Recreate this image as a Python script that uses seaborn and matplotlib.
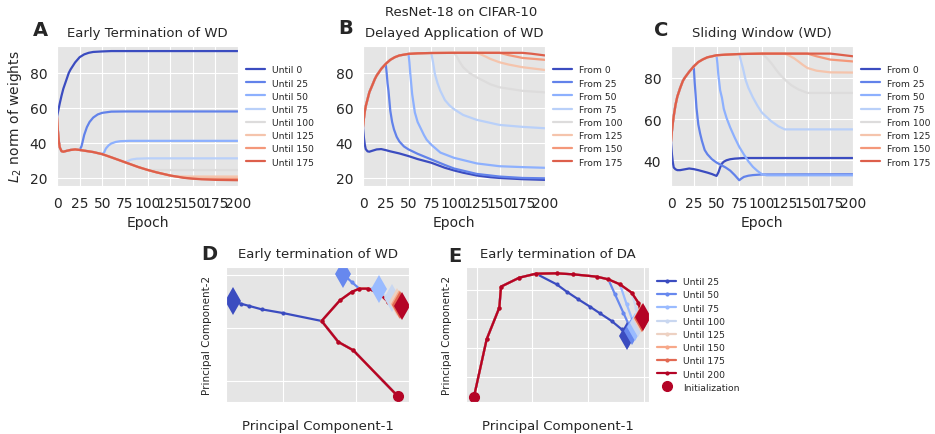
import pandas as pd
import matplotlib
matplotlib.use("Agg")
import matplotlib.pyplot as plt
from matplotlib.lines import Line2D
import seaborn as sns

# ---- values (ResNet-18 on CIFAR-10) ----

# Panel A: WD on from the start, switched off after epoch k
a_labels = ["Until 0", "Until 25", "Until 50", "Until 75",
            "Until 100", "Until 125", "Until 150", "Until 175"]
a_switch = [0, 25, 50, 75, 100, 125, 150, 175]
a_wd_epoch = [0, 1, 2, 3, 5, 7, 10, 15, 20, 25, 30, 40, 50, 60, 75, 90,
              100, 110, 125, 140, 150, 160, 175, 190, 200]
a_wd_norm = [55, 47, 41, 37.5, 35.3, 35, 35.4, 36, 36.3, 36, 35.6, 34.8, 33.6,
             31.8, 29, 26.2, 24.6, 23.2, 21.4, 20.1, 19.6, 19.2, 18.9, 18.7, 18.7]
a_tail_epoch = [
    [1, 2, 3, 5, 7, 10, 13, 15, 20, 25, 30, 35, 40, 50, 60, 75, 100, 150, 200],
    [27, 28, 30, 33, 36, 40, 45, 50, 60, 75, 200],
    [52, 54, 57, 60, 65, 70, 80, 200],
    [78, 82, 88, 100, 200],
    [105, 200],
    [130, 140, 200],
    [160, 200],
    [200],
]
a_tail_norm = [
    [57.5, 60, 62.5, 67, 71, 75.5, 80, 82, 86, 89, 90.6, 91.5, 92, 92.3,
     92.5, 92.5, 92.5, 92.5, 92.5],
    [38, 40, 44.5, 49, 52, 54.5, 56.3, 57.2, 57.9, 58, 58],
    [34.5, 36.8, 38.6, 39.7, 40.6, 41, 41.2, 41.2],
    [29.6, 30.5, 31, 31.2, 31.2],
    [24.5, 24.5],
    [21, 20.8, 20.8],
    [19.5, 19.5],
    [18.7],
]

# Panel B: no WD at first, WD applied from epoch k on
b_labels = ["From 0", "From 25", "From 50", "From 75",
            "From 100", "From 125", "From 150", "From 175"]
b_switch = [0, 25, 50, 75, 100, 125, 150, 175]
nowd_epoch = [0, 1, 2, 3, 5, 7, 10, 13, 15, 20, 25, 30, 35, 40, 50, 60, 75,
              100, 125, 150, 175, 200]
b_nowd_norm = [49, 54, 58, 61, 65, 69, 72.7, 76.5, 78.5, 82.3, 85.2, 87.5, 89,
               90, 90.9, 91.2, 91.4, 91.5, 91.5, 91.5, 91.5, 91.5]
b_tail_epoch = [
    [1, 2, 3, 5, 7, 10, 15, 20, 25, 30, 40, 50, 60, 75, 90, 100, 110, 125,
     140, 150, 175, 200],
    [26, 27, 28, 30, 32, 34, 37, 40, 45, 50, 60, 75, 90, 100, 125, 150, 175, 200],
    [51, 52, 54, 57, 60, 63, 67, 70, 75, 85, 100, 125, 150, 175, 200],
    [77, 79, 82, 85, 90, 95, 100, 110, 125, 150, 175, 200],
    [103, 106, 110, 117, 125, 140, 150, 175, 200],
    [130, 135, 140, 150, 160, 175, 200],
    [160, 175, 200],
    [185, 200],
]
b_tail_norm = [
    [43, 39, 36.5, 35.2, 35, 35.5, 36.3, 36.5, 35.9, 35.2, 34, 32.5, 30.8,
     28.7, 25.8, 24.3, 23, 21.4, 20.4, 20, 19.3, 18.9],
    [80, 74, 69.8, 58.4, 52, 47.8, 43.5, 40.8, 38, 36.3, 33.8, 30.6, 27.4,
     25.4, 22.3, 20.8, 20, 19.8],
    [86, 79.4, 68, 57.4, 52, 48.8, 44.5, 41.8, 39, 34.5, 31.5, 28.3, 26.7,
     26.2, 25.8],
    [86, 79.4, 74, 69.8, 64.5, 61.5, 59.3, 56, 53.2, 50.3, 49.2, 48.4],
    [89.5, 86.5, 83.3, 80, 77.5, 73.5, 71.8, 69.8, 68.9],
    [90.5, 89.3, 88, 86.1, 84.8, 83.3, 81.7],
    [90.2, 88.6, 87.5],
    [91, 90],
]

# Panel C: WD applied in a 50-epoch window starting at epoch k
c_nowd_norm = [49, 54, 58, 61.5, 67, 71, 75, 78.5, 80, 83, 85.6, 87.7, 89,
               90, 91, 91.3, 91.6, 91.8, 91.8, 91.8, 91.8, 91.8]
c_tail_epoch = [
    [1, 2, 3, 5, 7, 10, 15, 20, 25, 30, 40, 45, 50, 52, 54, 56, 58, 61, 65,
     70, 80, 200],
    [26, 27, 28, 30, 32, 34, 37, 40, 45, 50, 60, 65, 70, 75, 77, 80, 85, 90,
     100, 200],
    [51, 52, 54, 56, 58, 61, 65, 70, 75, 80, 85, 90, 95, 100, 105, 200],
    [77, 79, 82, 85, 90, 95, 100, 110, 118, 125, 200],
    [105, 110, 118, 125, 132, 140, 150, 200],
    [130, 135, 140, 145, 150, 160, 175, 200],
    [160, 175, 200],
    [185, 200],
]
c_tail_norm = [
    [43, 39, 36.5, 35.6, 35.2, 35.2, 35.6, 36, 35.7, 35.2, 34, 33.3, 32.4, 34,
     36.5, 38.4, 39.3, 40, 40.5, 40.8, 41.1, 41.1],
    [78, 72, 65.5, 57.4, 53, 49.4, 45, 42.9, 40.5, 38.9, 36.5, 35, 32.8, 30.3,
     31, 31.9, 32.5, 32.8, 33.1, 33.2],
    [87, 81.6, 74, 70.3, 65, 60.6, 56, 51, 46.5, 42.9, 39.5, 36.8, 34.8, 33.2,
     32.7, 32.7],
    [88, 84.8, 79, 75.2, 70.5, 66.5, 63.1, 59, 56.5, 55, 55],
    [89.8, 87.3, 82.5, 79.2, 76.5, 74.4, 72.7, 72.7],
    [90.8, 89.6, 88, 86.3, 84.8, 83.5, 82.7, 82.6],
    [90.5, 88.9, 88],
    [91.3, 90.5],
]

# Panels D/E: PCA trajectories (arbitrary PC units)
pc_labels = ["Until 25", "Until 50", "Until 75", "Until 100",
             "Until 125", "Until 150", "Until 175", "Until 200"]

d_trunk_x = [2.575, 1.968, 1.763, 1.534, 1.785, 1.945, 2.050, 2.174, 2.324,
             2.447, 2.630]
d_trunk_y = [0.718, 1.577, 1.734, 2.129, 2.517, 2.674, 2.737, 2.737, 2.643,
             2.486, 2.417]
d_branch = [4, 7, 8, 9, 10, 10, 10, 11]
d_tail_x = [[1.0, 0.712, 0.543, 0.425, 0.315], [1.945, 1.822], [2.324],
            [2.493], [2.562], [2.590], [2.610], []]
d_tail_y = [[2.279, 2.348, 2.411, 2.455, 2.505], [2.862, 3.019], [2.737],
            [2.567], [2.486], [2.455], [2.435], []]

e_trunk_x = [-0.048, 0.179, 0.406, 0.436, 0.764, 1.063, 1.433, 1.731, 2.149,
             2.358, 2.567, 2.776, 2.896, 2.973]
e_trunk_y = [-0.678, 1.299, 2.391, 3.115, 3.425, 3.563, 3.575, 3.540, 3.460,
             3.368, 3.195, 2.908, 2.563, 2.069]
e_branch = [6, 10, 11, 12, 13, 13, 13, 14]
e_tail_x = [[1.433, 1.612, 1.821, 2.030, 2.209, 2.418, 2.597, 2.699],
            [2.478, 2.627, 2.776], [2.687, 2.836], [2.854, 2.896],
            [2.943], [2.955], [2.961], []]
e_tail_y = [[3.195, 2.943, 2.678, 2.425, 2.195, 1.931, 1.644, 1.414],
            [2.851, 2.218, 1.586], [2.506, 1.724], [2.391, 1.874],
            [1.989], [2.023], [2.046], []]


def runs_frame(labels, switch, trunk_ep, trunk_val, tail_ep, tail_val):
    frames = []
    for lab, k, te, tv in zip(labels, switch, tail_ep, tail_val):
        head = [(e, v) for e, v in zip(trunk_ep, trunk_val) if e <= k]
        frames.append(pd.DataFrame({
            "run": lab,
            "epoch": [e for e, _ in head] + te,
            "norm": [v for _, v in head] + tv,
        }))
    return pd.concat(frames, ignore_index=True)


def path_frame(labels, branch, tx, ty, tail_x, tail_y):
    frames = []
    for lab, n, px, py in zip(labels, branch, tail_x, tail_y):
        frames.append(pd.DataFrame({
            "run": lab,
            "pc1": tx[:n] + px,
            "pc2": ty[:n] + py,
        }))
    return pd.concat(frames, ignore_index=True)


sns.set_style("darkgrid", {"axes.facecolor": "#E5E5E5", "grid.color": "white"})
plt.rcParams["font.family"] = ["DejaVu Sans"]
plt.rcParams["xtick.labelsize"] = 10
plt.rcParams["ytick.labelsize"] = 10

cmap = sns.color_palette("coolwarm", as_cmap=True)
norm_colors = [cmap(i / 8) for i in range(8)]
pc_colors = [cmap(i / 7) for i in range(8)]

leg_kw = dict(frameon=False, fontsize=6.7, labelspacing=0.45,
              handlelength=2.0, handletextpad=0.8)

fig = plt.figure(figsize=(9.35, 4.35), dpi=100)
W, H = 935, 435


def box(left, top, right, bottom):
    return [left / W, 1 - bottom / H, (right - left) / W, (bottom - top) / H]


ax_a = fig.add_axes(box(57, 47, 238, 187))
ax_b = fig.add_axes(box(363, 47, 545, 187))
ax_c = fig.add_axes(box(671, 47, 853, 187))
ax_d = fig.add_axes(box(226, 268, 409, 403))
ax_e = fig.add_axes(box(466, 268, 649, 403))

panels = [
    (ax_a, runs_frame(a_labels, a_switch, a_wd_epoch, a_wd_norm, a_tail_epoch, a_tail_norm),
     a_labels, "Early Termination of WD", (15.4, 95.4), [20, 40, 60, 80]),
    (ax_b, runs_frame(b_labels, b_switch, nowd_epoch, b_nowd_norm, b_tail_epoch, b_tail_norm),
     b_labels, "Delayed Application of WD", (15.4, 95.4), [20, 40, 60, 80]),
    (ax_c, runs_frame(b_labels, b_switch, nowd_epoch, c_nowd_norm, c_tail_epoch, c_tail_norm),
     b_labels, "Sliding Window (WD)", (27.5, 95.5), [40, 60, 80]),
]
for ax, df, labels, title, ylim, yt in panels:
    sns.lineplot(data=df, x="epoch", y="norm", hue="run", hue_order=labels,
                 palette=norm_colors, estimator=None, sort=False, lw=1.6, ax=ax)
    ax.set_xlim(0, 200)
    ax.set_ylim(*ylim)
    ax.set_xticks(range(0, 201, 25))
    ax.set_yticks(yt)
    ax.set_xlabel("Epoch", fontsize=10)
    ax.set_ylabel("")
    ax.set_title(title, fontsize=9.5, pad=7)
    sns.move_legend(ax, "center left", bbox_to_anchor=(1.0, 0.5), title=None, **leg_kw)
ax_a.set_ylabel("$L_2$ norm of weights", fontsize=10)

# PCA panels
for ax, df, tx, ty, title, xl, yl, xt, yt in [
    (ax_d, path_frame(pc_labels, d_branch, d_trunk_x, d_trunk_y, d_tail_x, d_tail_y),
     d_trunk_x, d_trunk_y, "Early termination of WD",
     (0.224, 2.731), (0.605, 3.144), [1, 2], [1, 2, 3]),
    (ax_e, path_frame(pc_labels, e_branch, e_trunk_x, e_trunk_y, e_tail_x, e_tail_y),
     e_trunk_x, e_trunk_y, "Early termination of DA",
     (-0.191, 3.087), (-0.862, 3.793), [0, 1, 2, 3], [0, 1, 2, 3]),
]:
    sns.lineplot(data=df, x="pc1", y="pc2", hue="run", hue_order=pc_labels,
                 palette=pc_colors, estimator=None, sort=False, lw=1.6,
                 marker="o", markersize=3, markeredgewidth=0, legend=False, ax=ax)
    for lab, col in zip(pc_labels, pc_colors):
        sub = df[df["run"] == lab]
        ax.plot(sub["pc1"].iloc[-1], sub["pc2"].iloc[-1], marker="d",
                markersize=14, color=col, markeredgewidth=0, ls="none")
    ax.plot(tx[0], ty[0], marker="o", markersize=7, color=pc_colors[-1], ls="none")
    ax.set_xlim(*xl)
    ax.set_ylim(*yl)
    ax.set_xticks(xt)
    ax.set_yticks(yt)
    ax.tick_params(labelbottom=False, labelleft=False)
    ax.set_xlabel("Principal Component-1", fontsize=9.5, labelpad=12)
    ax.set_ylabel("Principal Component-2", fontsize=7.5, labelpad=10)
    ax.set_title(title, fontsize=9.5, pad=7)

handles = [Line2D([], [], color=c, lw=1.6, marker="o", markersize=3,
                  markeredgewidth=0) for c in pc_colors]
handles.append(Line2D([], [], color=pc_colors[-1], ls="none", marker="o", markersize=7))
ax_e.legend(handles, pc_labels + ["Initialization"], loc="center left",
            bbox_to_anchor=(1.0, 0.5), **leg_kw)

fig.text(461 / W, 1 - 13 / H, "ResNet-18 on CIFAR-10", ha="center", va="center", fontsize=9.5)
for letter, x, y in [("A", 40, 30), ("B", 346, 28), ("C", 661, 30),
                     ("D", 209, 255), ("E", 455, 256)]:
    fig.text(x / W, 1 - y / H, letter, ha="center", va="center",
             fontsize=14, fontweight="bold")

fig.savefig("out.png", dpi=100)
